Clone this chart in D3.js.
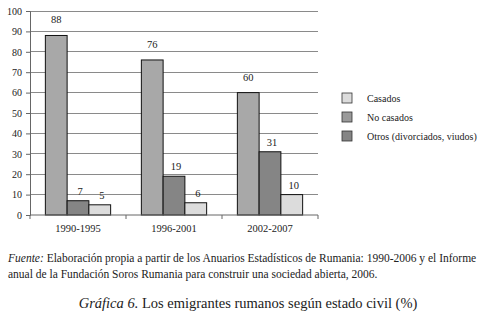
<!DOCTYPE html>
<html><head><meta charset="utf-8">
<script src="https://cdn.jsdelivr.net/npm/d3@7"></script>
</head>
<body style="margin:0"><svg id="c" width="491" height="317"></svg>
<script>
const categories = ["1990-1995","1996-2001","2002-2007"];
const seriesNames = ["Otros (divorciados, viudos)","No casados","Casados"];
const serOtros = [88, 76, 60];
const serNoCasados = [7, 19, 31];
const serCasados = [5, 6, 10];
const yTicks = [0,10,20,30,40,50,60,70,80,90,100];
const legendOrder = ["Casados","No casados","Otros (divorciados, viudos)"];

const series = [serOtros, serNoCasados, serCasados];
const barColors = ["#a8a8a8","#858585","#dcdcdc"];
const legendColors = {"Casados":"#dcdcdc","No casados":"#9a9a9a","Otros (divorciados, viudos)":"#858585"};
const fontNames = ["Liberation Serif"];
const FF = fontNames[0];

function ft(sel, size){
  return sel.style("font-family", `'${FF}'`).style("font-size", size+"px").style("fill","#222");
}

const svg = d3.select("#c");
const L = 30, R = 318, T = 11, B = 215;
const x0 = d3.scaleBand().domain(categories).range([L, R]).paddingInner(0.32).paddingOuter(0.16);
const x1 = d3.scaleBand().domain(d3.range(series.length)).range([0, x0.bandwidth()]);
const y = d3.scaleLinear().domain([0,100]).range([B, T]);

svg.append("g").selectAll("line").data(yTicks.filter(d=>d>0)).join("line")
  .attr("x1", L).attr("x2", R).attr("y1", d=>y(d)).attr("y2", d=>y(d))
  .attr("stroke","#8a8a8a").attr("stroke-width",1).attr("shape-rendering","crispEdges");

const ya = svg.append("g").attr("transform",`translate(${L},0)`)
  .call(d3.axisLeft(y).tickValues(yTicks).tickSize(4).tickPadding(4));
ya.attr("font-family", null).attr("font-size", null);
ya.select(".domain").attr("stroke","#666");
ya.selectAll(".tick line").attr("stroke","#666");
ft(ya.selectAll("text"), 10);

const g = svg.append("g");
categories.forEach((c,i)=>{
  series.forEach((s,j)=>{
    g.append("rect")
      .attr("x", x0(c)+x1(j)).attr("y", y(s[i]))
      .attr("width", x1.bandwidth()).attr("height", y(0)-y(s[i]))
      .attr("fill", barColors[j]).attr("stroke","#111").attr("stroke-width",1);
    ft(g.append("text")
      .attr("x", x0(c)+x1(j)+x1.bandwidth()/2 + (j===0?0:2))
      .attr("y", y(s[i]) - (j===0?12:6))
      .attr("text-anchor","middle"), 10.5).text(s[i]);
  });
});

const xa = svg.append("g").attr("transform",`translate(0,${B})`);
xa.append("line").attr("x1",L).attr("x2",R).attr("stroke","#666");
const bounds = [L].concat(categories.map(c=>x0(c)+x0.bandwidth()+x0.step()*x0.paddingInner()/2));
bounds[bounds.length-1] = R;
xa.selectAll("line.tk").data(bounds).join("line").attr("class","tk")
  .attr("x1",d=>d).attr("x2",d=>d).attr("y1",0).attr("y2",4).attr("stroke","#666");
ft(xa.selectAll("text").data(categories).join("text")
  .attr("x", d=>x0(d)+x0.bandwidth()/2).attr("y",17).attr("text-anchor","middle"), 10.5).text(d=>d);

const lg = svg.append("g").attr("transform","translate(342,93)");
legendOrder.forEach((n,i)=>{
  lg.append("rect").attr("x",0).attr("y",i*19).attr("width",10).attr("height",10)
    .attr("fill",legendColors[n]).attr("stroke","#333").attr("stroke-width",0.8);
  ft(lg.append("text").attr("x",25).attr("y",i*19+8.5), 10).text(n);
});

const cap = ft(svg.append("text").attr("x",8).attr("y",262), 11.5);
cap.append("tspan").style("font-style","italic").text("Fuente:");
cap.append("tspan").text(" Elaboración propia a partir de los Anuarios Estadísticos de Rumania: 1990-2006 y el Informe");
ft(svg.append("text").attr("x",8).attr("y",278), 11.5)
  .text("anual de la Fundación Soros Rumania para construir una sociedad abierta, 2006.");

const ti = ft(svg.append("text").attr("x",248).attr("y",308).attr("text-anchor","middle"), 14.5);
ti.append("tspan").style("font-style","italic").text("Gráfica 6.");
ti.append("tspan").text(" Los emigrantes rumanos según estado civil (%)");
</script></body></html>
